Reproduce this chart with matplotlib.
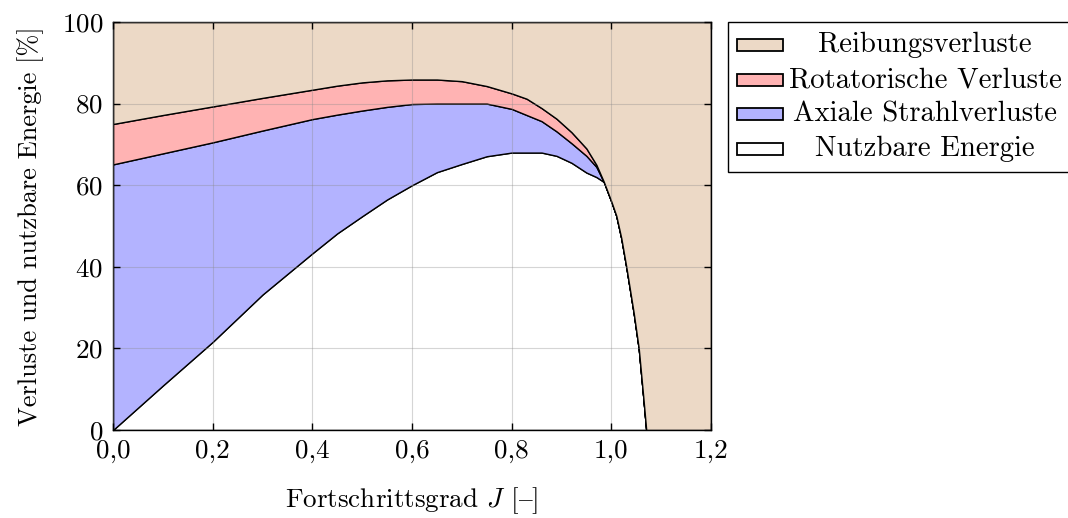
import numpy as np
import matplotlib
matplotlib.use("Agg")
import matplotlib.pyplot as plt
from matplotlib.patches import Rectangle

plt.rcParams["font.family"] = ["cmr10", "DejaVu Serif"]
plt.rcParams["mathtext.fontset"] = "cm"
plt.rcParams["axes.unicode_minus"] = False
plt.rcParams["axes.formatter.use_mathtext"] = True

# Fortschrittsgrad J
J = [0.0, 0.1, 0.2, 0.3, 0.4, 0.45, 0.5, 0.55, 0.6, 0.65, 0.7, 0.75, 0.8, 0.83,
     0.86, 0.89, 0.92, 0.95, 0.97, 0.985, 1.0, 1.01, 1.02, 1.03, 1.045, 1.055,
     1.064, 1.07, 1.2]

# Anteile in %
nutzbar = [0.0, 10.9, 21.6, 33.2, 43.3, 48.2, 52.4, 56.5, 60.0, 63.2, 65.2, 67.1,
           68.0, 68.0, 68.0, 67.2, 65.5, 63.1, 62.0, 60.8, 56.0, 52.5, 47.0, 40.0,
           28.6, 20.0, 8.2, 0.0, 0.0]
axial = [65.1, 56.9, 48.9, 40.2, 32.9, 29.1, 25.9, 22.7, 19.9, 16.8, 14.8, 12.9,
         10.7, 9.2, 7.7, 6.0, 4.8, 4.1, 2.5, 0.0, 0.0, 0.0, 0.0, 0.0, 0.0, 0.0,
         0.0, 0.0, 0.0]
rotatorisch = [9.9, 9.4, 8.8, 8.0, 7.2, 7.1, 6.9, 6.5, 6.0, 5.9, 5.5, 4.3, 3.8,
               4.0, 3.2, 3.1, 2.7, 1.8, 0.5, 0.0, 0.0, 0.0, 0.0, 0.0, 0.0, 0.0,
               0.0, 0.0, 0.0]
reibung = [25.0, 22.8, 20.7, 18.6, 16.6, 15.6, 14.8, 14.3, 14.1, 14.1, 14.5, 15.7,
           17.5, 18.8, 21.1, 23.7, 27.0, 31.0, 35.0, 39.2, 44.0, 47.5, 53.0, 60.0,
           71.4, 80.0, 91.8, 100.0, 100.0]

labels = ["Nutzbare Energie", "Axiale Strahlverluste", "Rotatorische Verluste",
          "Reibungsverluste"]
colors = ["#ffffff", "#b3b3ff", "#ffb3b3", "#ecd9c6"]

xticks = [0.0, 0.2, 0.4, 0.6, 0.8, 1.0, 1.2]
xticklabels = ["0,0", "0,2", "0,4", "0,6", "0,8", "1,0", "1,2"]
yticks = [0, 20, 40, 60, 80, 100]

W, H = 1068, 518
fig = plt.figure(figsize=(W / 100, H / 100), dpi=100)
ax = fig.add_axes([113 / W, 1 - 430 / H, 598 / W, 408 / H])

polys = ax.stackplot(J, nutzbar, axial, rotatorisch, reibung, labels=labels,
                     colors=colors, edgecolor="black", linewidth=1.0)

ax.set_xlim(0, 1.2)
ax.set_ylim(0, 100)
ax.set_xticks(xticks)
ax.set_xticklabels(xticklabels)
ax.set_yticks(yticks)
ax.tick_params(direction="in", top=True, right=True, length=5, width=1,
               labelsize=19.5, pad=7)
ax.grid(True, color="#888888", alpha=0.35, linewidth=0.8)
ax.set_axisbelow(False)
for s in ax.spines.values():
    s.set_linewidth(1.0)

ax.set_xlabel(r"Fortschrittsgrad $J$ [$\mathrm{–}$]", fontsize=19.5, labelpad=16)
ax.set_ylabel("Verluste und nutzbare Energie [%]", fontsize=19, labelpad=13)

# Legende von Hand: Kästchen links, Text zentriert (oberste Schicht zuerst)
px = fig.transFigure.inverted()


def fpos(x, y):
    return px.transform(fig.dpi_scale_trans.transform((x / 100, (H - y) / 100)))


x0, y0 = fpos(728, 172)
x1, y1 = fpos(1080, 22)
fig.add_artist(Rectangle((x0, y0), x1 - x0, y1 - y0, transform=fig.transFigure,
                         facecolor="white", edgecolor="black", linewidth=1.0))
row_y = [45, 80, 114, 149]
for ry, poly, lab in zip(row_y, polys[::-1], labels[::-1]):
    bx, by = fpos(737, ry + 6)
    bx2, by2 = fpos(783, ry - 6)
    fig.add_artist(Rectangle((bx, by), bx2 - bx, by2 - by,
                             transform=fig.transFigure,
                             facecolor=poly.get_facecolor()[0],
                             edgecolor="black", linewidth=1.3))
    tx, ty = fpos(925, ry)
    fig.text(tx, ty, lab, ha="center", va="center", fontsize=20.7)

fig.savefig("out.png", dpi=100)
